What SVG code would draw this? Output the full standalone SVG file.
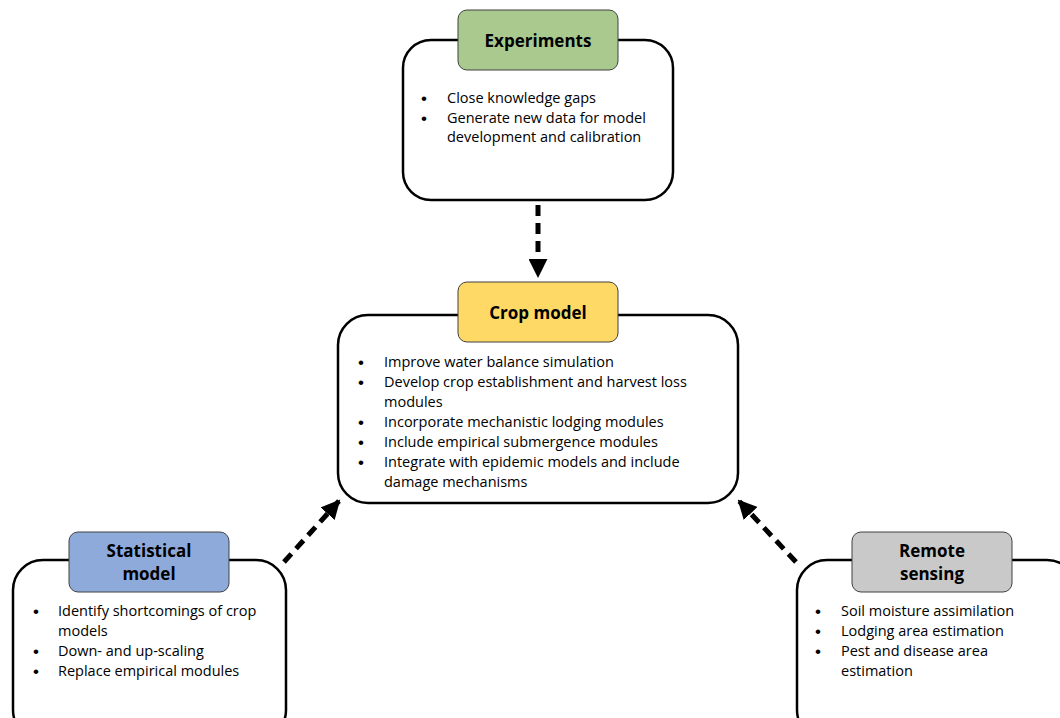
<svg xmlns="http://www.w3.org/2000/svg" width="1060" height="718" viewBox="0 0 1060 718">
<defs>
<marker id="ah" viewBox="0 0 10 10" refX="9" refY="5" markerWidth="3.8" markerHeight="3.8" orient="auto" markerUnits="strokeWidth">
<path d="M0,0 L10,5 L0,10 Z" fill="#000"/>
</marker>
<style>
.box{fill:#fff;stroke:#000;stroke-width:2.5}
.hdr{stroke:#404040;stroke-width:1}
.t{font-family:"Open Sans","Liberation Sans",sans-serif;font-size:14.5px;fill:#000}
.b{font-family:"Liberation Sans",sans-serif;font-size:17px;fill:#000}
.h{font-family:"Open Sans","Liberation Sans",sans-serif;font-size:17px;font-weight:bold;fill:#000;text-anchor:middle}
.c{fill:none;stroke:#000;stroke-width:5;stroke-dasharray:11,7}
</style>
</defs>
<rect width="1060" height="718" fill="#fff"/>
<g id="connectors">
<line class="c" x1="538" y1="205" x2="538" y2="276" marker-end="url(#ah)"/>
<line class="c" x1="284" y1="562" x2="339" y2="501" marker-end="url(#ah)"/>
<line class="c" x1="796" y1="562" x2="739" y2="501" marker-end="url(#ah)"/>
</g>
<g id="experiments">
<rect class="box" x="403" y="40" width="270" height="160" rx="28"/>
<rect class="hdr" x="458" y="10" width="160" height="60" rx="9" fill="#a9c98f"/>
<text class="h" x="538" y="47">Experiments</text>
<text class="b"><tspan x="421" y="104">•</tspan><tspan x="421" y="124">•</tspan></text>
<text class="t"><tspan x="447" y="103">Close knowledge gaps</tspan><tspan x="447" y="123">Generate new data for model</tspan><tspan x="447" y="142">development and calibration</tspan></text>
</g>
<g id="crop-model">
<rect class="box" x="338" y="315" width="400" height="188" rx="30"/>
<rect class="hdr" x="458" y="282" width="160" height="60" rx="9" fill="#ffd966"/>
<text class="h" x="538" y="319">Crop model</text>
<text class="b"><tspan x="358" y="368">•</tspan><tspan x="358" y="388">•</tspan><tspan x="358" y="428">•</tspan><tspan x="358" y="448">•</tspan><tspan x="358" y="468">•</tspan></text>
<text class="t"><tspan x="384" y="367">Improve water balance simulation</tspan><tspan x="384" y="387">Develop crop establishment and harvest loss</tspan><tspan x="384" y="407">modules</tspan><tspan x="384" y="427">Incorporate mechanistic lodging modules</tspan><tspan x="384" y="447">Include empirical submergence modules</tspan><tspan x="384" y="467">Integrate with epidemic models and include</tspan><tspan x="384" y="487">damage mechanisms</tspan></text>
</g>
<g id="statistical-model">
<rect class="box" x="13" y="560" width="273" height="180" rx="30"/>
<rect class="hdr" x="69" y="532" width="160" height="60" rx="9" fill="#8eaadb"/>
<text class="h"><tspan x="149" y="557">Statistical</tspan><tspan x="149" y="580">model</tspan></text>
<text class="b"><tspan x="33" y="617">•</tspan><tspan x="33" y="657">•</tspan><tspan x="33" y="677">•</tspan></text>
<text class="t"><tspan x="58" y="616">Identify shortcomings of crop</tspan><tspan x="58" y="636">models</tspan><tspan x="58" y="656">Down- and up-scaling</tspan><tspan x="58" y="676">Replace empirical modules</tspan></text>
</g>
<g id="remote-sensing">
<rect class="box" x="797" y="560" width="280" height="180" rx="30"/>
<rect class="hdr" x="852" y="532" width="160" height="60" rx="9" fill="#c9c9c9"/>
<text class="h"><tspan x="932" y="557">Remote</tspan><tspan x="932" y="580">sensing</tspan></text>
<text class="b"><tspan x="815" y="617">•</tspan><tspan x="815" y="637">•</tspan><tspan x="815" y="657">•</tspan></text>
<text class="t"><tspan x="841" y="616">Soil moisture assimilation</tspan><tspan x="841" y="636">Lodging area estimation</tspan><tspan x="841" y="656">Pest and disease area</tspan><tspan x="841" y="676">estimation</tspan></text>
</g>
</svg>
